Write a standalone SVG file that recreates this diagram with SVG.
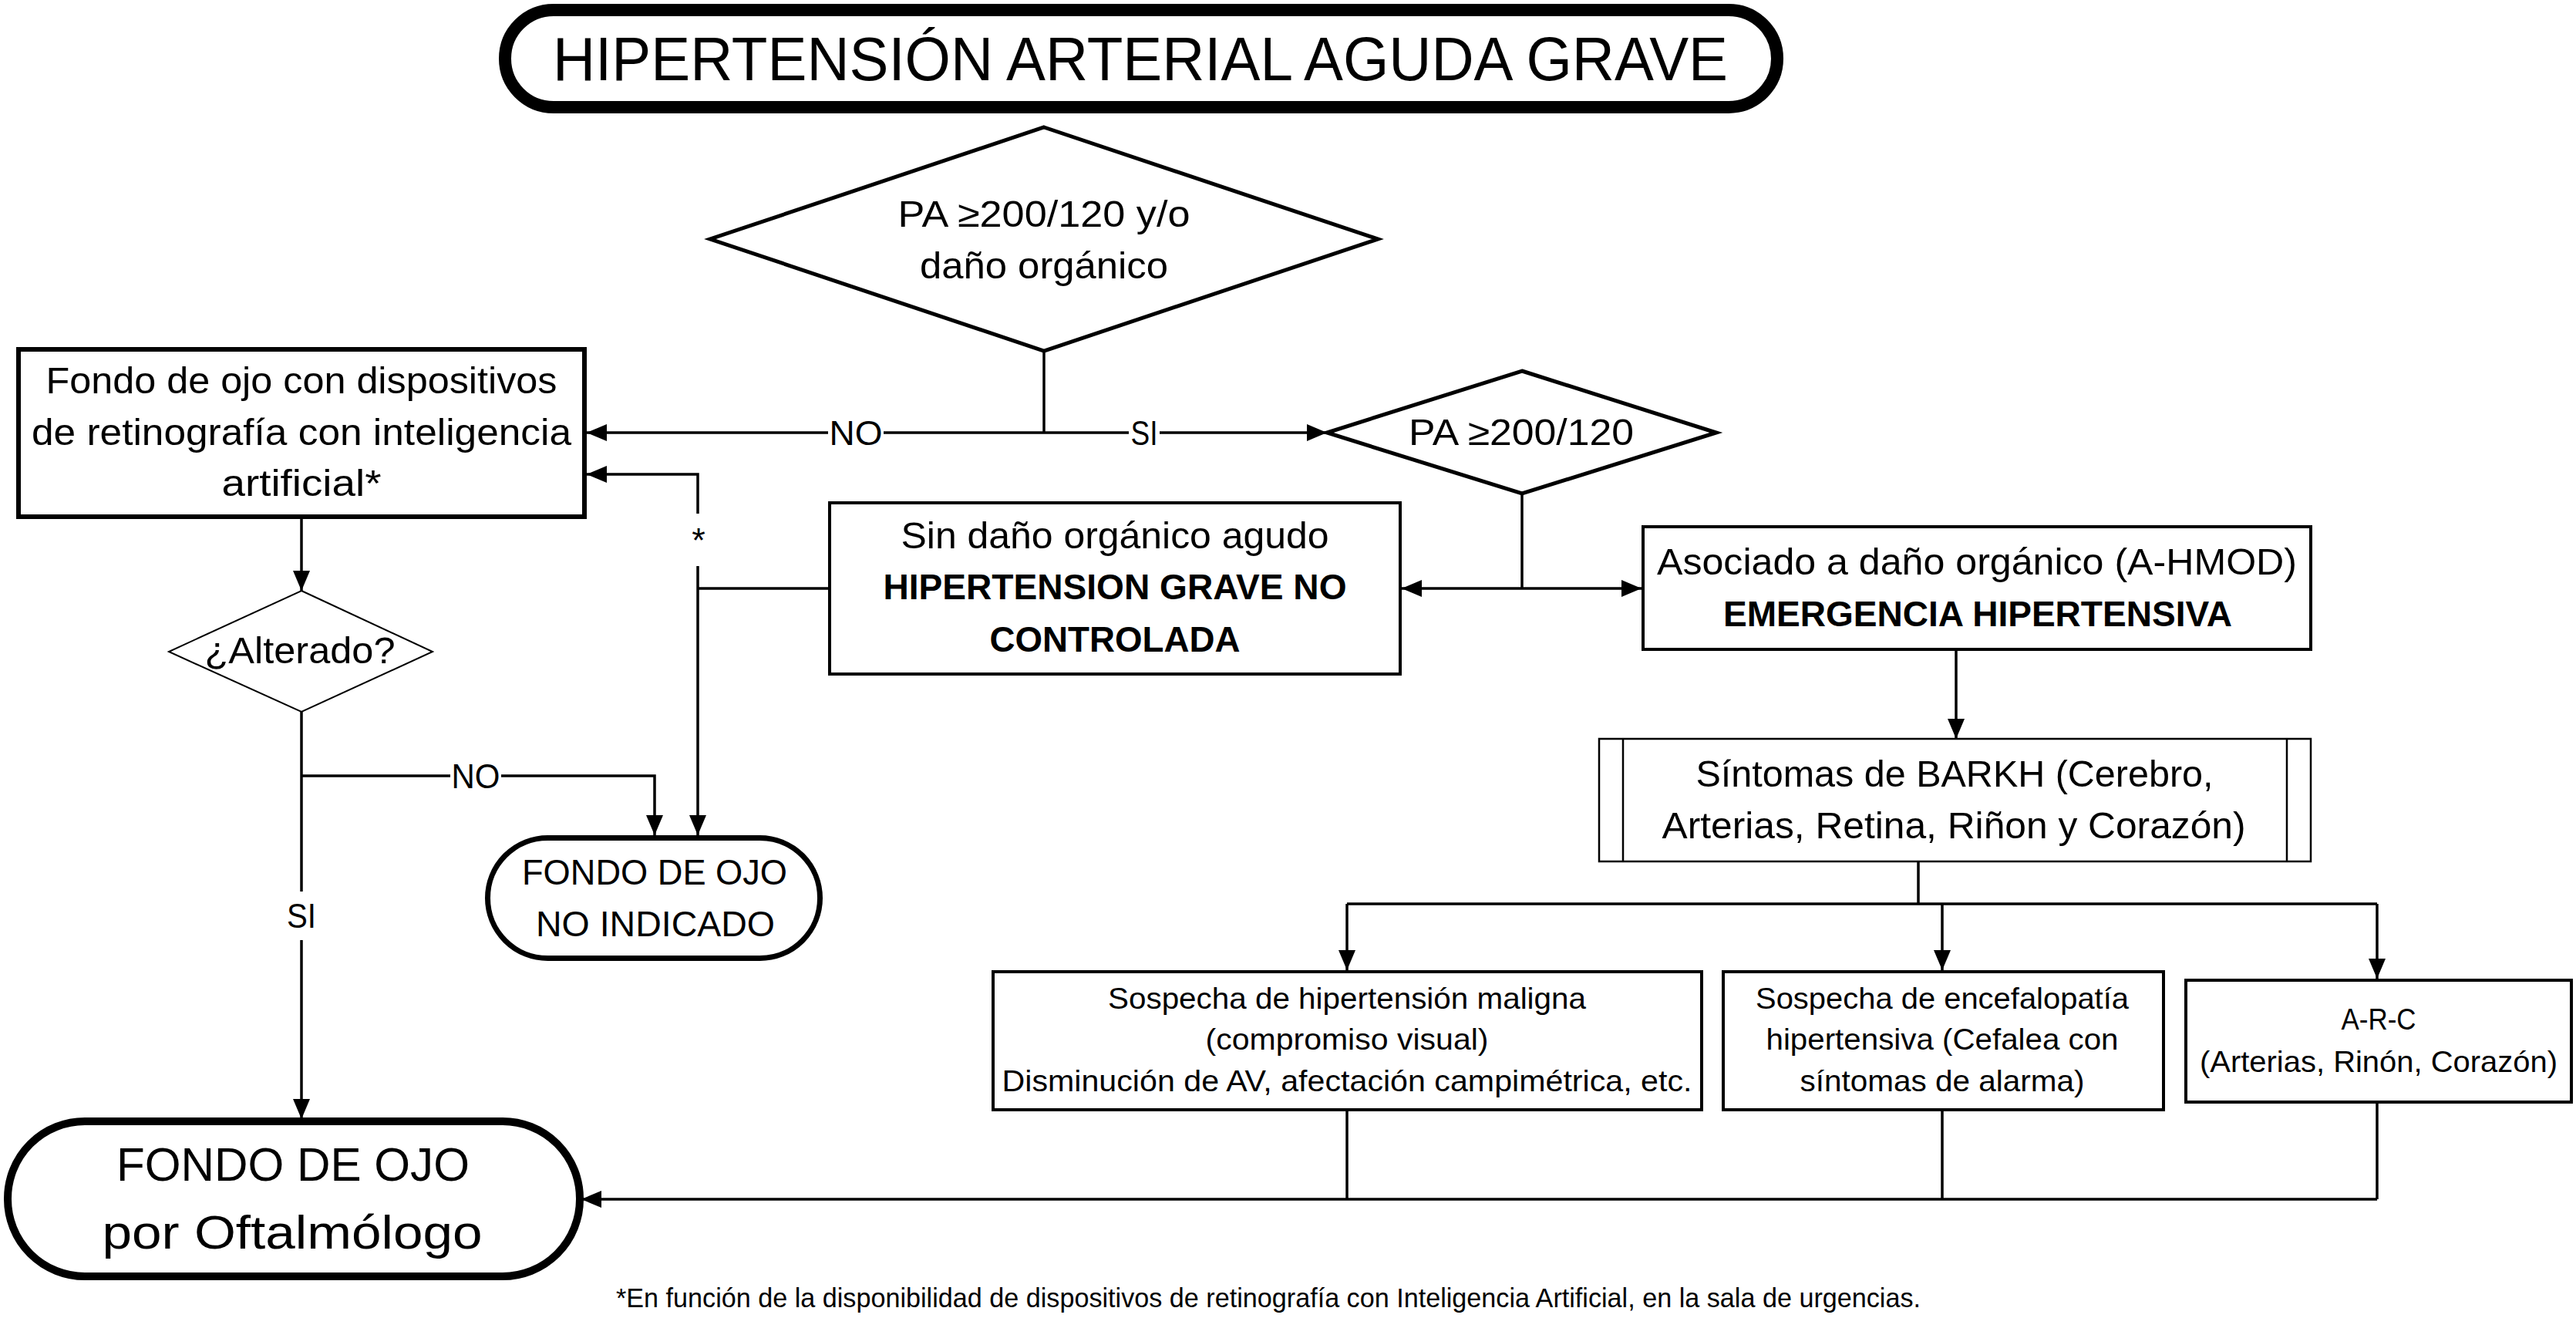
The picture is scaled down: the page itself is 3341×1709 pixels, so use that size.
<svg xmlns="http://www.w3.org/2000/svg" width="3341" height="1709" viewBox="0 0 3341 1709">
<defs>
<style>
text { font-family: "Liberation Sans", Arial, sans-serif; fill: #000; text-anchor: middle; }
.r { font-size: 48px; }
.b { font-size: 46px; font-weight: bold; }
.s { font-size: 39px; }
.lbl { font-size: 45px; }
.box { fill: #fff; stroke: #000; stroke-width: 4; }
.thin { fill: #fff; stroke: #000; stroke-width: 2.5; }
.con { fill: none; stroke: #000; stroke-width: 3.5; }
.arr { marker-end: url(#ah); }
.bg { fill: #fff; }
</style>
<marker id="ah" markerWidth="26" markerHeight="22" refX="26" refY="11" orient="auto" markerUnits="userSpaceOnUse">
<path d="M0,0 L26,11 L0,22 Z" fill="#000"/>
</marker>
</defs>
<rect width="3341" height="1709" fill="#fff"/>

<g id="connectors">
<path class="con" d="M1354,455 V561"/>
<path class="con arr" d="M1354,561 H761"/>
<path class="con arr" d="M1354,561 H1721"/>
<path class="con" d="M1974,640 V763"/>
<path class="con arr" d="M1974,763 H1818"/>
<path class="con arr" d="M1974,763 H2129"/>
<path class="con" d="M1076,763 H905"/>
<path class="con arr" d="M905,763 V615 H761"/>
<path class="con arr" d="M905,763 V1083"/>
<path class="con arr" d="M391,673 V766"/>
<path class="con arr" d="M391,923 V1451"/>
<path class="con arr" d="M391,1006 H849 V1083"/>
<path class="con arr" d="M2537,842 V958"/>
<path class="con" d="M2488,1117 V1172"/>
<path class="con" d="M1747,1172 H3083"/>
<path class="con arr" d="M1747,1172 V1258"/>
<path class="con arr" d="M2519,1172 V1258"/>
<path class="con arr" d="M3083,1172 V1269"/>
<path class="con" d="M1747,1439 V1555"/>
<path class="con" d="M2519,1439 V1555"/>
<path class="con" d="M3083,1429 V1555"/>
<path class="con arr" d="M3083,1555 H754"/>
<rect class="bg" x="1074" y="538" width="72" height="46"/>
<text class="lbl" x="1110" y="577" textLength="69" lengthAdjust="spacingAndGlyphs">NO</text>
<rect class="bg" x="1464" y="538" width="40" height="46"/>
<text class="lbl" x="1484" y="577" textLength="35" lengthAdjust="spacingAndGlyphs">SI</text>
<rect class="bg" x="890" y="666" width="30" height="68"/>
<text class="lbl" x="906" y="716">*</text>
<rect class="bg" x="584" y="985" width="66" height="42"/>
<text class="lbl" x="617" y="1022" textLength="63" lengthAdjust="spacingAndGlyphs">NO</text>
<rect class="bg" x="370" y="1156" width="42" height="63"/>
<text class="lbl" x="391" y="1203" textLength="38" lengthAdjust="spacingAndGlyphs">SI</text>
</g>

<g id="title">
<rect x="655" y="13" width="1650" height="126" rx="63" ry="63" fill="#fff" stroke="#000" stroke-width="16"/>
<text x="1479" y="104" font-size="80" textLength="1524" lengthAdjust="spacingAndGlyphs">HIPERTENSIÓN ARTERIAL AGUDA GRAVE</text>
</g>

<g id="decision1">
<polygon points="1354,165 1787,310 1354,455 921,310" fill="#fff" stroke="#000" stroke-width="5"/>
<text class="r" x="1354" y="294" textLength="379" lengthAdjust="spacingAndGlyphs">PA ≥200/120 y/o</text>
<text class="r" x="1354" y="361" textLength="322" lengthAdjust="spacingAndGlyphs">daño orgánico</text>
</g>

<g id="decision2">
<polygon points="1974,481 2226,561 1974,640 1721,561" fill="#fff" stroke="#000" stroke-width="5"/>
<text class="r" x="1973" y="577" textLength="292" lengthAdjust="spacingAndGlyphs">PA ≥200/120</text>
</g>

<g id="fondo-ia">
<rect x="24" y="453" width="734" height="217" fill="#fff" stroke="#000" stroke-width="6"/>
<text class="r" x="391" y="510" textLength="663" lengthAdjust="spacingAndGlyphs">Fondo de ojo con dispositivos</text>
<text class="r" x="391" y="577" textLength="700" lengthAdjust="spacingAndGlyphs">de retinografía con inteligencia</text>
<text class="r" x="391" y="643" textLength="207" lengthAdjust="spacingAndGlyphs">artificial*</text>
</g>

<g id="alterado">
<polygon points="391,766 561,845 391,923 219,845" fill="#fff" stroke="#000" stroke-width="2"/>
<text class="r" x="389" y="860" textLength="247" lengthAdjust="spacingAndGlyphs">¿Alterado?</text>
</g>

<g id="hta-no-controlada">
<rect class="box" x="1076" y="652" width="740" height="222"/>
<text class="r" x="1446" y="711" textLength="555" lengthAdjust="spacingAndGlyphs">Sin daño orgánico agudo</text>
<text class="b" x="1446" y="777" textLength="601" lengthAdjust="spacingAndGlyphs">HIPERTENSION GRAVE NO</text>
<text class="b" x="1446" y="845" textLength="325" lengthAdjust="spacingAndGlyphs">CONTROLADA</text>
</g>

<g id="emergencia">
<rect class="box" x="2131" y="683" width="866" height="159"/>
<text class="r" x="2564" y="745" textLength="830" lengthAdjust="spacingAndGlyphs">Asociado a daño orgánico (A-HMOD)</text>
<text class="b" x="2565" y="812" textLength="660" lengthAdjust="spacingAndGlyphs">EMERGENCIA HIPERTENSIVA</text>
</g>

<g id="sintomas">
<rect class="thin" x="2074" y="958" width="923" height="159"/>
<line x1="2105" y1="958" x2="2105" y2="1117" stroke="#000" stroke-width="2.5"/>
<line x1="2966" y1="958" x2="2966" y2="1117" stroke="#000" stroke-width="2.5"/>
<text class="r" x="2535" y="1020" textLength="671" lengthAdjust="spacingAndGlyphs">Síntomas de BARKH (Cerebro,</text>
<text class="r" x="2534" y="1087" textLength="757" lengthAdjust="spacingAndGlyphs">Arterias, Retina, Riñon y Corazón)</text>
</g>

<g id="maligna">
<rect class="box" x="1288" y="1260" width="919" height="179"/>
<text class="s" x="1747" y="1308" textLength="620" lengthAdjust="spacingAndGlyphs">Sospecha de hipertensión maligna</text>
<text class="s" x="1747" y="1361" textLength="367" lengthAdjust="spacingAndGlyphs">(compromiso visual)</text>
<text class="s" x="1747" y="1415" textLength="895" lengthAdjust="spacingAndGlyphs">Disminución de AV, afectación campimétrica, etc.</text>
</g>

<g id="encefalopatia">
<rect class="box" x="2235" y="1260" width="571" height="179"/>
<text class="s" x="2519" y="1308" textLength="484" lengthAdjust="spacingAndGlyphs">Sospecha de encefalopatía</text>
<text class="s" x="2519" y="1361" textLength="457" lengthAdjust="spacingAndGlyphs">hipertensiva (Cefalea con</text>
<text class="s" x="2519" y="1415" textLength="369" lengthAdjust="spacingAndGlyphs">síntomas de alarma)</text>
</g>

<g id="arc">
<rect class="box" x="2835" y="1271" width="500" height="158"/>
<text class="s" x="3085" y="1335" textLength="97" lengthAdjust="spacingAndGlyphs">A-R-C</text>
<text class="s" x="3085" y="1390" textLength="464" lengthAdjust="spacingAndGlyphs">(Arterias, Rinón, Corazón)</text>
</g>

<g id="no-indicado">
<rect x="632.5" y="1086.5" width="431" height="156" rx="78" ry="78" fill="#fff" stroke="#000" stroke-width="7"/>
<text x="849" y="1147" font-size="47" textLength="344" lengthAdjust="spacingAndGlyphs">FONDO DE OJO</text>
<text x="850" y="1214" font-size="47" textLength="310" lengthAdjust="spacingAndGlyphs">NO INDICADO</text>
</g>

<g id="oftalmologo">
<rect x="10" y="1454" width="742" height="201" rx="100" ry="100" fill="#fff" stroke="#000" stroke-width="10"/>
<text x="380" y="1531" font-size="61" textLength="458" lengthAdjust="spacingAndGlyphs">FONDO DE OJO</text>
<text x="379" y="1619" font-size="61" textLength="493" lengthAdjust="spacingAndGlyphs">por Oftalmólogo</text>
</g>

<g id="footnote">
<text x="1645" y="1695" font-size="35" textLength="1692" lengthAdjust="spacingAndGlyphs">*En función de la disponibilidad de dispositivos de retinografía con Inteligencia Artificial, en la sala de urgencias.</text>
</g>
</svg>
